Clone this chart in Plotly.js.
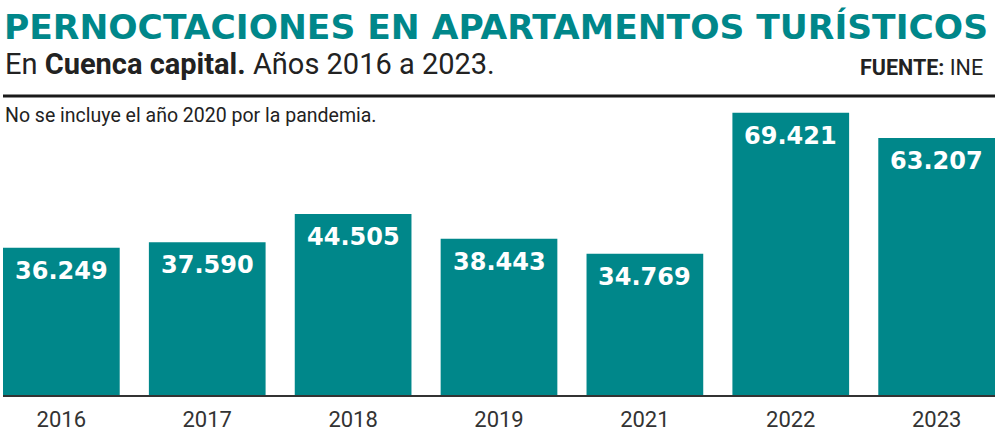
<!DOCTYPE html>
<html>
<head>
<meta charset="utf-8">
<script src="https://cdn.plot.ly/plotly-3.0.1.min.js"></script>
<style>
  html, body { margin: 0; padding: 0; background: #fff; }
  #chart { width: 1000px; height: 442px; }
</style>
</head>
<body>
<div id="chart"></div>
<script>
// Data
const years = ['2016', '2017', '2018', '2019', '2021', '2022', '2023'];
const stays = [36249, 37590, 44505, 38443, 34769, 69421, 63207];

const titleText = 'PERNOCTACIONES EN APARTAMENTOS TURÍSTICOS';
const subtitleText = 'En <b>Cuenca capital.</b> Años 2016 a 2023.';
const sourceText = '<b>FUENTE:</b> INE';
const noteText = 'No se incluye el año 2020 por la pandemia.';

const TEAL = '#00878a';
const W = 1000, H = 442;
const mL = 3, mR = 5, mT = 100, mB = 47;
const plotH = H - mT - mB;
const plotW = W - mL - mR;
function py(p) { return (H - mB - p) / plotH; }
function px(p) { return (p - mL) / plotW; }
function fmt(v) { return String(v).replace(/\B(?=(\d{3})+(?!\d))/g, '.'); }

const trace = {
  type: 'bar',
  x: years,
  y: stays,
  marker: { color: TEAL, line: { width: 0 } },
  hoverinfo: 'skip'
};

// category axis: annotation x given as category serial number
const annotations = years.map((yr, i) => ({
  x: i, y: stays[i], xref: 'x', yref: 'y',
  text: '<b>' + fmt(stays[i]) + '</b>',
  showarrow: false,
  yanchor: 'middle', xanchor: 'center',
  yshift: -23,
  font: { family: 'DejaVu Sans', size: 24, color: '#ffffff' }
}));

annotations.push(
  { xref: 'paper', yref: 'paper', x: px(3), y: py(64), xanchor: 'left', yanchor: 'middle',
    text: subtitleText, showarrow: false,
    font: { family: 'Roboto', size: 29, color: '#222222' } },
  { xref: 'paper', yref: 'paper', x: px(985), y: py(67), xanchor: 'right', yanchor: 'middle',
    text: sourceText, showarrow: false,
    font: { family: 'Roboto', size: 21.5, color: '#222222' } },
  { xref: 'paper', yref: 'paper', x: px(3), y: py(115), xanchor: 'left', yanchor: 'middle',
    text: noteText, showarrow: false,
    font: { family: 'Roboto', size: 19.5, color: '#222222' } }
);

const layout = {
  width: W, height: H,
  margin: { l: mL, r: mR, t: mT, b: mB, pad: 0 },
  paper_bgcolor: '#ffffff',
  plot_bgcolor: '#ffffff',
  showlegend: false,
  bargap: 0.2,
  title: {
    text: '<b>' + titleText + '</b>',
    xref: 'container', yref: 'container',
    x: 4 / W, xanchor: 'left',
    y: 1 - 27 / H, yanchor: 'middle',
    font: { family: 'DejaVu Sans', size: 34.5, color: TEAL }
  },
  xaxis: {
    type: 'category',
    range: [-0.4, 6.4],
    showline: true, linecolor: '#333333', linewidth: 2,
    ticks: '', showgrid: false, zeroline: false,
    ticklabelstandoff: 4,
    tickfont: { family: 'Roboto', size: 22, color: '#333333' },
    fixedrange: true
  },
  yaxis: {
    range: [0, 72571],
    visible: false,
    showgrid: false, zeroline: false,
    fixedrange: true
  },
  shapes: [
    { type: 'line', xref: 'paper', yref: 'paper', x0: 0, x1: 1, y0: py(96), y1: py(96),
      line: { color: '#1a1a1a', width: 3 } }
  ],
  annotations: annotations
};

Plotly.newPlot('chart', [trace], layout, { staticPlot: true, displayModeBar: false });
</script>
</body>
</html>
